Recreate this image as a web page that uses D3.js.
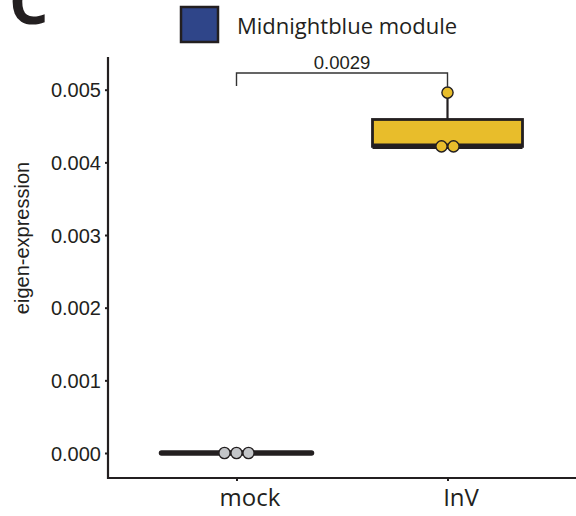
<!DOCTYPE html>
<html>
<head>
<meta charset="utf-8">
<script src="https://cdn.jsdelivr.net/npm/d3@7"></script>
<style>
  body { margin: 0; background: #fff; }
  svg { display: block; }
</style>
</head>
<body>
<div id="chart"></div>
<script>

// data
const groups = ["mock", "InV"];
const mockValues = [0, 0, 0];
const invValues = [0.00422, 0.00422, 0.00496];
const yTicks = [0, 0.001, 0.002, 0.003, 0.004, 0.005];
const pValue = "0.0029";
const legendLabel = "Midnightblue module";
const panelLetter = "C";

const series = [
  { group: "mock", values: mockValues, fill: "#c3c5c8" },
  { group: "InV", values: invValues, fill: "#e8bd2b" },
];

let dimensions = {
  width: 576,
  height: 516,
  margin: { top: 57, right: 0, bottom: 38, left: 108 },
};
dimensions.boundedWidth = dimensions.width - dimensions.margin.left - dimensions.margin.right;
dimensions.boundedHeight = dimensions.height - dimensions.margin.top - dimensions.margin.bottom;

const ink = "#231f20";

const wrapper = d3.select("#chart")
  .append("svg")
  .attr("width", dimensions.width)
  .attr("height", dimensions.height);

const bounds = wrapper.append("g")
  .attr("transform", `translate(${dimensions.margin.left},${dimensions.margin.top})`);

const x = d3.scalePoint()
  .domain(groups)
  .range([0, dimensions.boundedWidth])
  .padding(0.609);

const y = d3.scaleLinear()
  .domain([-0.000344, 0.00545])
  .range([dimensions.boundedHeight, 0]);

const boxHalf = 75;

// boxes
series.forEach(s => {
  const v = s.values.slice().sort(d3.ascending);
  const q1 = d3.quantile(v, 0.25);
  const med = d3.quantile(v, 0.5);
  const q3 = d3.quantile(v, 0.75);
  const iqr = q3 - q1;
  const hiW = d3.max(v.filter(d => d <= q3 + 1.5 * iqr));
  const loW = d3.min(v.filter(d => d >= q1 - 1.5 * iqr));
  const cx = x(s.group);

  // whiskers
  bounds.append("line")
    .attr("x1", cx).attr("x2", cx)
    .attr("y1", y(q3)).attr("y2", y(hiW))
    .attr("stroke", ink).attr("stroke-width", 2.2);
  bounds.append("line")
    .attr("x1", cx).attr("x2", cx)
    .attr("y1", y(q1)).attr("y2", y(loW))
    .attr("stroke", ink).attr("stroke-width", 2.2);

  if (q3 - q1 > 0) {
    bounds.append("rect")
      .attr("x", cx - boxHalf)
      .attr("y", y(q3))
      .attr("width", boxHalf * 2)
      .attr("height", y(q1) - y(q3))
      .attr("fill", s.fill)
      .attr("stroke", ink)
      .attr("stroke-width", 2.8);
  }

  // median
  bounds.append("line")
    .attr("x1", cx - boxHalf).attr("x2", cx + boxHalf)
    .attr("y1", y(med)).attr("y2", y(med))
    .attr("stroke", ink)
    .attr("stroke-width", 5.5)
    .attr("stroke-linecap", q3 - q1 > 0 ? "butt" : "round");

  // points, dodged when values tie
  const spacing = 12;
  const counts = d3.rollup(v, g => g.length, d => d);
  const seen = new Map();
  v.forEach(d => {
    const n = counts.get(d);
    const k = seen.get(d) || 0;
    seen.set(d, k + 1);
    const off = (k - (n - 1) / 2) * spacing;
    bounds.append("circle")
      .attr("cx", cx + off)
      .attr("cy", y(d))
      .attr("r", 5.6)
      .attr("fill", s.fill)
      .attr("stroke", ink)
      .attr("stroke-width", 1.4);
  });
});

// axes
const yAxisGenerator = d3.axisLeft(y).tickValues(yTicks).tickFormat(d3.format(".3f")).tickSize(3).tickSizeOuter(0);
const yAxis = bounds.append("g").call(yAxisGenerator);
yAxis.select(".domain").remove();
yAxis.selectAll("line").attr("stroke", ink).attr("stroke-width", 2);
yAxis.selectAll("text")
  .attr("x", -7)
  .attr("dy", "0.36em")
  .style("font-family", "'Liberation Sans', Arial, sans-serif")
  .style("font-size", "20px")
  .attr("fill", ink);

const xAxisGenerator = d3.axisBottom(x).tickSize(3).tickSizeOuter(0);
const xAxis = bounds.append("g")
  .attr("transform", `translate(0,${dimensions.boundedHeight})`)
  .call(xAxisGenerator);
xAxis.select(".domain").remove();
xAxis.selectAll("line").attr("stroke", ink).attr("stroke-width", 2);
xAxis.selectAll("text")
  .attr("y", 28)
  .attr("dy", 0)
  .attr("dx", 13)
  .style("font-family", "'Open Sans', 'Noto Sans', sans-serif")
  .style("font-size", "24px")
  .attr("fill", ink);

// axis lines
bounds.append("path")
  .attr("d", `M0,0V${dimensions.boundedHeight}H${dimensions.boundedWidth}`)
  .attr("fill", "none")
  .attr("stroke", ink)
  .attr("stroke-width", 2.2);

// y label
wrapper.append("text")
  .attr("transform", `translate(29,238) rotate(-90)`)
  .attr("text-anchor", "middle")
  .style("font-family", "'Liberation Sans', Arial, sans-serif")
  .style("font-size", "20px")
  .attr("fill", ink)
  .text("eigen-expression");

// significance bracket
const bracketY = y(0.00523);
const x1 = x("mock"), x2 = x("InV");
bounds.append("path")
  .attr("d", `M${x1},${y(0.00505)}V${bracketY}H${x2}V${y(0.00503)}`)
  .attr("fill", "none")
  .attr("stroke", "#333")
  .attr("stroke-width", 1.4);
bounds.append("text")
  .attr("x", (x1 + x2) / 2)
  .attr("y", bracketY - 4)
  .attr("text-anchor", "middle")
  .style("font-family", "'Liberation Sans', Arial, sans-serif")
  .style("font-size", "18.5px")
  .attr("fill", ink)
  .text(pValue);

// legend
wrapper.append("rect")
  .attr("x", 181).attr("y", 7)
  .attr("width", 37).attr("height", 35)
  .attr("fill", "#2f4589")
  .attr("stroke", ink)
  .attr("stroke-width", 2.5);
wrapper.append("text")
  .attr("x", 237).attr("y", 34)
  .style("font-family", "'Open Sans', 'Noto Sans', sans-serif")
  .style("font-size", "22px")
  .attr("fill", ink)
  .text(legendLabel);

// panel letter
wrapper.append("text")
  .attr("x", 9).attr("y", 24)
  .style("font-family", "'Open Sans', 'Noto Sans', sans-serif")
  .style("font-weight", "bold")
  .style("font-size", "62px")
  .attr("fill", ink)
  .text(panelLetter);

</script>
</body>
</html>
